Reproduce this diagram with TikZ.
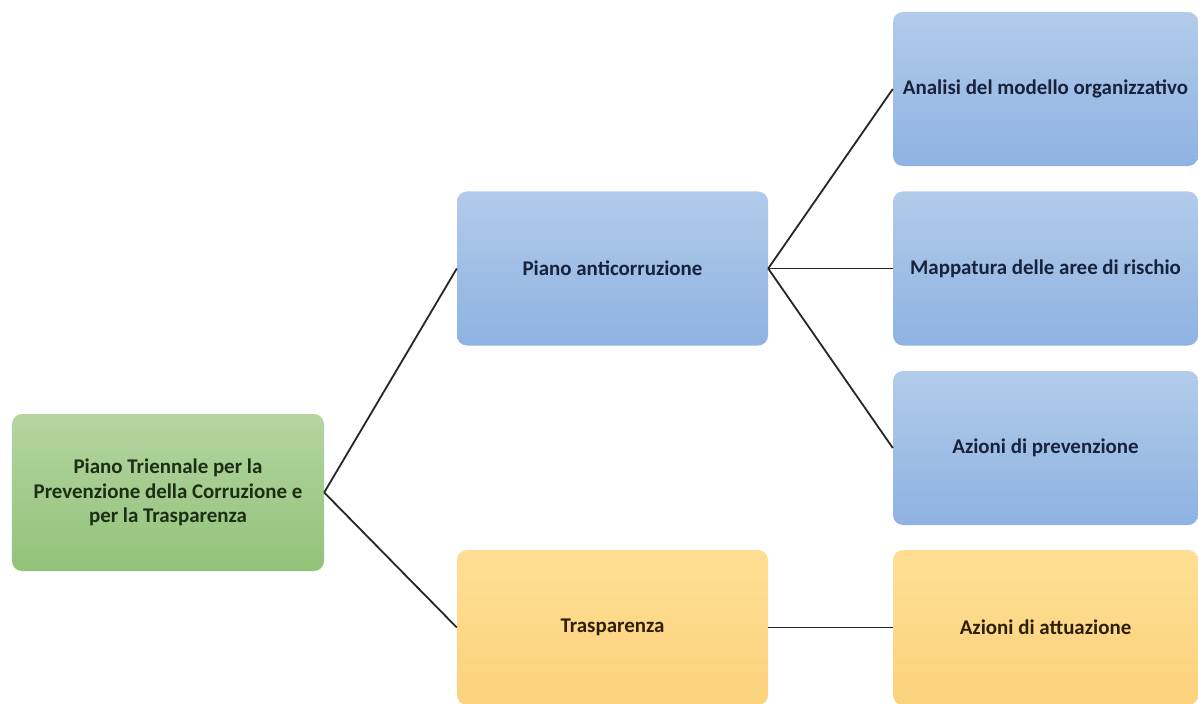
\documentclass[tikz,border=0pt]{standalone}
\usepackage{fontspec}
\setmainfont{Carlito}
\begin{document}
\begin{tikzpicture}[x=1bp,y=-1bp,
  box/.style={rounded corners=10bp, minimum width=#1, inner sep=2bp, align=center, font=\bfseries\fontsize{21}{24.5}\selectfont},
  greenbox/.style={box=312bp, minimum height=157bp, top color=gbtop, bottom color=gbbot, text=gtext},
  bluebox/.style={box=311bp, minimum height=154bp, top color=bbtop, bottom color=bbbot, text=btext},
  orangebox/.style={box=311bp, minimum height=155bp, top color=obtop, bottom color=obbot, text=otext},
  conn/.style={draw=black!85, line width=1.8bp}]
\definecolor{gbtop}{HTML}{B4D5A0}
\definecolor{gbbot}{HTML}{92C27A}
\definecolor{gtext}{HTML}{1C2E14}
\definecolor{bbtop}{HTML}{B2CBEA}
\definecolor{bbbot}{HTML}{8EB2E2}
\definecolor{btext}{HTML}{17223B}
\definecolor{obtop}{HTML}{FFDE94}
\definecolor{obbot}{HTML}{FBD27C}
\definecolor{otext}{HTML}{2E1F06}
\useasboundingbox (0,0) rectangle (1198,704);
\fill[white] (0,0) rectangle (1198,704);
\node[greenbox] (root) at (168,492.5) {Piano Triennale per la\\Prevenzione della Corruzione e\\per la Trasparenza};
\node[bluebox] (pac) at (612.5,268.5) {Piano anticorruzione};
\node[orangebox] (tra) at (612.5,627.5) {Trasparenza};
\node[bluebox, minimum width=305bp] (ana) at (1045.5,89) {Analisi del modello organizzativo};
\node[bluebox, minimum width=305bp] (map) at (1045.5,268.5) {Mappatura delle aree di rischio};
\node[bluebox, minimum width=305bp] (prev) at (1045.5,448) {Azioni di prevenzione};
\node[orangebox, minimum width=305bp] (att) at (1045.5,627.5) {Azioni di attuazione};
\path[conn] (root.east) -- (pac.west);
\path[conn] (root.east) -- (tra.west);
\path[conn] (pac.east) -- (ana.west);
\path[conn] (pac.east) -- (map.west);
\path[conn] (pac.east) -- (prev.west);
\path[conn] (tra.east) -- (att.west);
\end{tikzpicture}
\end{document}
